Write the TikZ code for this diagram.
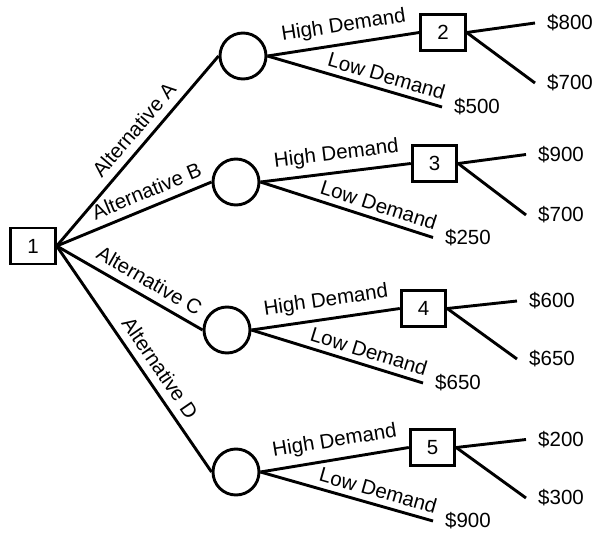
\documentclass[tikz,border=0pt]{standalone}
\usepackage{fontspec}
\setmainfont{Liberation Sans}
\begin{document}
\begin{tikzpicture}[x=1pt,y=-1pt,
  every node/.style={font=\fontsize{20.5}{24}\selectfont},
  lw/.style={line width=2.9pt},
  dec/.style={draw,lw,minimum width=44.5pt,minimum height=36pt,inner sep=0pt},
  chance/.style={draw,lw,circle,minimum size=46pt,inner sep=0pt},
  br/.style={lw},
  alt/.style={sloped,above,inner xsep=0pt,inner ysep=7.5pt},
  hi/.style={sloped,above,inner xsep=0pt,inner ysep=7pt,pos=0.52},
  lo/.style={sloped,above,inner xsep=0pt,inner ysep=5.5pt,pos=0.66},
  pay/.style={anchor=west,inner sep=0pt,xshift=12pt}
]
\useasboundingbox (0,0) rectangle (592,533);
% nodes
\node[dec] (n1) at (33,246) {1};
\node[chance] (ca) at (243,56) {};
\node[chance] (cb) at (236,182) {};
\node[chance] (cc) at (227,330) {};
\node[chance] (cd) at (236,472) {};
\node[dec] (n2) at (443,32.5) {2};
\node[dec] (n3) at (434.5,163.5) {3};
\node[dec] (n4) at (423.5,308.5) {4};
\node[dec] (n5) at (432.5,447.5) {5};
% free ends
\coordinate (la) at (442,107);
\coordinate (lb) at (433,237.5);
\coordinate (lc) at (423,383);
\coordinate (ld) at (433,521);
\coordinate (u2) at (535,23);
\coordinate (d2) at (535,83);
\coordinate (u3) at (526,154.5);
\coordinate (d3) at (526,215);
\coordinate (u4) at (517,301);
\coordinate (d4) at (517,359);
\coordinate (u5) at (526,439.5);
\coordinate (d5) at (526,498);
% alternatives
\draw[br] (n1.east) -- node[alt,pos=0.555] {Alternative A} (ca.west);
\draw[br] (n1.east) -- node[alt,pos=0.62] {Alternative B} (cb.west);
\draw[br] (n1.east) -- node[alt,pos=0.58] {Alternative C} (cc.west);
\draw[br] (n1.east) -- node[alt,pos=0.58] {Alternative D} (cd.west);
% demand branches
\draw[br] (ca.east) -- node[hi] {High Demand} (n2.west);
\draw[br] (ca.east) -- node[lo] {Low Demand} (la);
\draw[br] (cb.east) -- node[hi] {High Demand} (n3.west);
\draw[br] (cb.east) -- node[lo] {Low Demand} (lb);
\draw[br] (cc.east) -- node[hi] {High Demand} (n4.west);
\draw[br] (cc.east) -- node[lo] {Low Demand} (lc);
\draw[br] (cd.east) -- node[hi] {High Demand} (n5.west);
\draw[br] (cd.east) -- node[lo] {Low Demand} (ld);
% outcome branches
\draw[br] (n2.east) -- (u2);
\draw[br] (n2.east) -- (d2);
\draw[br] (n3.east) -- (u3);
\draw[br] (n3.east) -- (d3);
\draw[br] (n4.east) -- (u4);
\draw[br] (n4.east) -- (d4);
\draw[br] (n5.east) -- (u5);
\draw[br] (n5.east) -- (d5);
% payoffs
\node[pay] (pu2) at (u2) {\$800};
\node[pay] (pd2) at (d2) {\$700};
\node[pay] (pla) at (la) {\$500};
\node[pay] (pu3) at (u3) {\$900};
\node[pay] (pd3) at (d3) {\$700};
\node[pay] (plb) at (lb) {\$250};
\node[pay] (pu4) at (u4) {\$600};
\node[pay] (pd4) at (d4) {\$650};
\node[pay] (plc) at (lc) {\$650};
\node[pay] (pu5) at (u5) {\$200};
\node[pay] (pd5) at (d5) {\$300};
\node[pay] (pld) at (ld) {\$900};
\end{tikzpicture}
\end{document}
